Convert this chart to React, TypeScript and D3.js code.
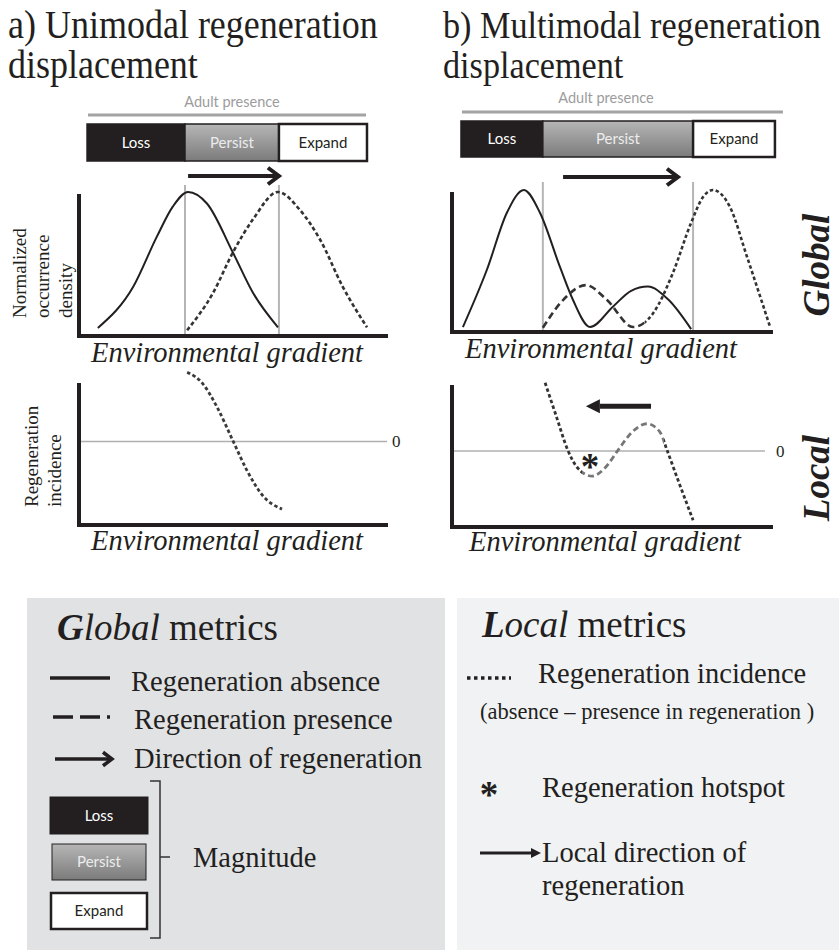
import * as d3 from "d3";

type Pt = [number, number];

// every x position is a place on the environmental gradient, 0–100
// top panels: normalized occurrence density 0–1, bottom panels: regeneration incidence
const absenceA: Pt[] = [
  [6.1, 0.056], [17.5, 0.34], [25.2, 0.69], [30.4, 0.9], [35.3, 1.0],
  [41.4, 0.92], [49.8, 0.58], [56.3, 0.3], [64.4, 0.06],
];
const presenceA: Pt[] = [
  [35, 0.04], [43.4, 0.3], [49.8, 0.58], [56.3, 0.81], [64.4, 1.0],
  [71.5, 0.875], [78, 0.67], [85.4, 0.34], [93.2, 0.06],
];
const incidenceA: Pt[] = [
  [35, 0.83], [40.1, 0.69], [44.7, 0.41], [49.8, 0.01], [54.4, -0.35],
  [59.5, -0.65], [65.7, -0.81],
];

const absenceB: Pt[] = [
  [3.4, 0.035], [10.9, 0.44], [17.1, 0.84], [22.4, 1.0], [27.4, 0.84],
  [33.6, 0.46], [37.7, 0.225], [43, 0.035], [50.2, 0.18], [55.8, 0.29],
  [61, 0.32], [67.3, 0.23], [74.5, 0.02],
];
const presenceB: Pt[] = [
  [28.3, 0.03], [34.6, 0.225], [41.7, 0.33], [48.3, 0.225], [56.4, 0.035],
  [62.6, 0.13], [68.8, 0.415], [74.5, 0.77], [78.2, 0.95], [81.3, 1.0],
  [86.6, 0.88], [91.9, 0.53], [99.1, 0.035],
];
const incidenceB: Pt[] = [
  [29, 0.9], [32.4, 0.47], [36.1, 0.01], [38.9, -0.21], [43.6, -0.33],
  [47.7, -0.22], [51.7, 0.01], [56.1, 0.25], [60.7, 0.36], [64.8, 0.25],
  [67, 0.01], [71, -0.45], [75.1, -0.91],
];

const magnitudeLabels = ["Loss", "Persist", "Expand"];
const barEdgesA = [2.6, 34.3, 64.7, 93.2];
const barEdgesB = [2.8, 28.3, 75.1, 100.6];
const adultA = [2.9, 92.9];
const adultB = [3.1, 103.1];
const shiftA = [35.3, 64.7];
const shiftB = [34.6, 70.4];
const localShiftB = { from: 62, to: 41.7, at: 0.59 };
const hotspotB: Pt = [43, -0.145];

const SERIF = "'Liberation Serif', 'Times New Roman', serif";
const SANS = "Lato, 'Open Sans', sans-serif";
const INK = "#231f20";
const DOT = "3.5 2.5";
const DASH = "7 4";

type Seg = { from: number; to: number; dash?: string; color: string };

const Curve = ({ id, data, x, y, segs, width }: any) => {
  const line = d3
    .line<Pt>()
    .x((d) => x(d[0]))
    .y((d) => y(d[1]))
    .curve(d3.curveMonotoneX);
  const d = line(data) || "";
  return (
    <g>
      {segs.map((s: Seg, i: number) => {
        const cid = `${id}-${i}`;
        const x0 = x(s.from);
        const x1 = x(s.to);
        return (
          <g key={i}>
            <clipPath id={cid}>
              <rect x={x0} y={0} width={x1 - x0} height={950} />
            </clipPath>
            <path
              d={d}
              fill="none"
              stroke={s.color}
              strokeWidth={width}
              strokeDasharray={s.dash}
              clipPath={`url(#${cid})`}
            />
          </g>
        );
      })}
    </g>
  );
};

const OpenArrow = ({ x0, x1, y, w = 4, head = 10 }: any) => {
  const dir = x1 > x0 ? 1 : -1;
  return (
    <g stroke={INK} strokeWidth={w} fill="none">
      <line x1={x0} x2={x1 - dir * 2} y1={y} y2={y} />
      <polyline points={`${x1 - dir * head},${y - head * 0.75} ${x1},${y} ${x1 - dir * head},${y + head * 0.75}`} />
    </g>
  );
};

const SolidArrow = ({ x0, x1, y, w = 4, head = 14, half = 7 }: any) => {
  const dir = x1 > x0 ? 1 : -1;
  return (
    <g fill={INK}>
      <line x1={x0} x2={x1 - dir * head} y1={y} y2={y} stroke={INK} strokeWidth={w} />
      <polygon points={`${x1},${y} ${x1 - dir * head},${y - half} ${x1 - dir * head},${y + half}`} />
    </g>
  );
};

const MagnitudeBar = ({ x, edges, top, h }: any) => (
  <g>
    {magnitudeLabels.map((lab, i) => {
      const x0 = x(edges[i]);
      const x1 = x(edges[i + 1]);
      const fill = i === 0 ? INK : i === 1 ? "url(#persistFill)" : "#fff";
      return (
        <g key={lab}>
          <rect
            x={x0}
            y={top}
            width={x1 - x0}
            height={h}
            fill={fill}
            stroke={INK}
            strokeWidth={i === 2 ? 2.5 : 1.5}
          />
          <text
            x={(x0 + x1) / 2}
            y={top + h / 2 + 5}
            textAnchor="middle"
            fontFamily={SANS}
            fontSize={15}
            fill={i === 0 ? "#fff" : i === 1 ? "#ececec" : INK}
          >
            {lab}
          </text>
        </g>
      );
    })}
  </g>
);

const Panel = ({ id, L, absence, presence, presenceSegs, incidence, incidenceSegs, edges, adult, shift, local }: any) => {
  const x = d3.scaleLinear().domain([0, 100]).range(L.x);
  const yTop = d3.scaleLinear().domain([0, 1]).range(L.top);
  const yBot = d3.scaleLinear().domain(L.botDomain).range(L.bottom);
  const [r0, r1] = x.range();
  return (
    <g>
      {/* adult presence & magnitude bar */}
      <text x={L.adultTextX} y={L.adultTextY} textAnchor="middle" fontFamily={SANS} fontSize={14.5} fill="#9c9c9c">
        Adult presence
      </text>
      <line x1={x(adult[0])} x2={x(adult[1])} y1={L.adultY} y2={L.adultY} stroke="#a3a3a3" strokeWidth={3} />
      <MagnitudeBar x={x} edges={edges} top={L.barTop} h={L.barH} />
      <OpenArrow x0={x(shift[0])} x1={x(shift[1])} y={L.arrowY} w={4} head={11} />

      {/* density plot */}
      {[edges[1], edges[2]].map((e: number) => (
        <line key={e} x1={x(e)} x2={x(e)} y1={L.boundTop} y2={yTop(0)} stroke="#b5b5b5" strokeWidth={2} />
      ))}
      <Curve id={`${id}-abs`} data={absence} x={x} y={yTop} width={2} segs={[{ from: -5, to: 110, color: INK }]} />
      <Curve id={`${id}-pre`} data={presence} x={x} y={yTop} width={2.6} segs={presenceSegs} />
      <line x1={r0} x2={r0} y1={yTop(1) + 2} y2={yTop(0) + 2} stroke={INK} strokeWidth={4} />
      <line x1={r0 - 2} x2={r1} y1={yTop(0)} y2={yTop(0)} stroke={INK} strokeWidth={4} />
      <text x={L.gradX[0]} y={L.gradTop} textAnchor="middle" fontFamily={SERIF} fontStyle="italic" fontSize={28.5} fill={INK}>
        Environmental gradient
      </text>

      {/* incidence plot */}
      <line x1={r0} x2={L.zeroEnd} y1={yBot(0)} y2={yBot(0)} stroke="#b0b0b0" strokeWidth={1.5} />
      <text x={L.zeroLabelX} y={yBot(0) + 6} fontFamily={SERIF} fontSize={17} fill={INK}>
        0
      </text>
      <Curve id={`${id}-inc`} data={incidence} x={x} y={yBot} width={2.8} segs={incidenceSegs} />
      {local && (
        <>
          <SolidArrow x0={x(local.from)} x1={x(local.to)} y={yBot(local.at)} w={5} head={14} half={7} />
          <text
            x={x(hotspotB[0])}
            y={yBot(hotspotB[1]) + 17}
            textAnchor="middle"
            fontFamily={SERIF}
            fontWeight="bold"
            fontSize={37}
            fill={INK}
          >
            *
          </text>
        </>
      )}
      <line x1={r0} x2={r0} y1={yBot.range()[1]} y2={yBot.range()[0] + 2} stroke={INK} strokeWidth={4} />
      <line x1={r0 - 2} x2={r1} y1={yBot.range()[0]} y2={yBot.range()[0]} stroke={INK} strokeWidth={4} />
      <text x={L.gradX[1]} y={L.gradBottom} textAnchor="middle" fontFamily={SERIF} fontStyle="italic" fontSize={28.5} fill={INK}>
        Environmental gradient
      </text>
    </g>
  );
};

const LAYOUT_A = {
  x: [79, 388], top: [336, 192], bottom: [525, 383], botDomain: [-1, 0.7],
  adultY: 115, adultTextX: 232, adultTextY: 107, barTop: 124, barH: 37, arrowY: 176,
  boundTop: 185, zeroEnd: 387, zeroLabelX: 392, gradX: [227, 227], gradTop: 362, gradBottom: 550,
};
const LAYOUT_B = {
  x: [452, 773], top: [332, 190], bottom: [527, 385], botDomain: [-1, 0.87],
  adultY: 112, adultTextX: 606, adultTextY: 103, barTop: 121, barH: 36, arrowY: 177,
  boundTop: 182, zeroEnd: 765, zeroLabelX: 776, gradX: [601, 605], gradTop: 358, gradBottom: 551,
};

const T = (p: any) => <text fontFamily={SERIF} fill={INK} {...p} />;

const App = () => {
  return (
    <svg
      width={839}
      height={950}
      viewBox="0 0 839 950"
      style={{ position: "absolute", left: 0, top: 0, background: "#fff" }}
    >
      <defs>
        <linearGradient id="persistFill" x1="0" y1="0" x2="0" y2="1">
          <stop offset="0" stopColor="#b6b6b6" />
          <stop offset="1" stopColor="#7b7b7b" />
        </linearGradient>
      </defs>
      <rect width={839} height={950} fill="#fff" />

      {/* titles, slightly condensed like the original */}
      <T transform="translate(8,38) scale(1,1.1)" fontSize={36}>a) Unimodal regeneration</T>
      <T transform="translate(8,78) scale(1,1.1)" fontSize={36}>displacement</T>
      <T transform="translate(443,38) scale(1,1.1)" fontSize={34.2}>b) Multimodal regeneration</T>
      <T transform="translate(443,78) scale(1,1.1)" fontSize={34.2}>displacement</T>

      {/* y labels */}
      <g fontFamily={SERIF} fontSize={19} fill={INK}>
        <text transform="translate(26,318) rotate(-90)">Normalized</text>
        <text transform="translate(49,318) rotate(-90)">occurrence</text>
        <text transform="translate(72,318) rotate(-90)">density</text>
        <text transform="translate(38,507) rotate(-90)">Regeneration</text>
        <text transform="translate(61,507) rotate(-90)">incidence</text>
      </g>

      <Panel
        id="a"
        L={LAYOUT_A}
        absence={absenceA}
        presence={presenceA}
        presenceSegs={[{ from: -5, to: 110, dash: "4 2.6", color: "#333" }]}
        incidence={incidenceA}
        incidenceSegs={[{ from: -5, to: 110, dash: DOT, color: "#3a3a3a" }]}
        edges={barEdgesA}
        adult={adultA}
        shift={shiftA}
      />
      <Panel
        id="b"
        L={LAYOUT_B}
        absence={absenceB}
        presence={presenceB}
        presenceSegs={[
          { from: -5, to: 60, dash: DASH, color: "#333" },
          { from: 60, to: 110, dash: DOT, color: "#333" },
        ]}
        incidence={incidenceB}
        incidenceSegs={[
          { from: -5, to: 40.5, dash: DOT, color: "#333" },
          { from: 40.5, to: 66, dash: "6 3.5", color: "#777" },
          { from: 66, to: 110, dash: DOT, color: "#333" },
        ]}
        edges={barEdgesB}
        adult={adultB}
        shift={shiftB}
        local={localShiftB}
      />

      {/* scale labels */}
      <T transform="translate(829,265) rotate(-90)" textAnchor="middle" fontSize={37} fontStyle="italic" fontWeight="bold">
        Global
      </T>
      <T transform="translate(829,478) rotate(-90)" textAnchor="middle" fontSize={37} fontStyle="italic" fontWeight="bold">
        Local
      </T>

      {/* legend: global */}
      <rect x={27} y={598} width={418} height={352} fill="#e1e2e4" />
      <T x={57} y={640} fontSize={37}>
        <tspan fontStyle="italic" fontWeight="bold">G</tspan>
        <tspan fontStyle="italic">lobal</tspan>
        <tspan> metrics</tspan>
      </T>
      <line x1={50} x2={110} y1={678} y2={678} stroke={INK} strokeWidth={3.5} />
      <T x={131} y={691} fontSize={28.5}>Regeneration absence</T>
      <line x1={53} x2={113} y1={717} y2={717} stroke={INK} strokeWidth={3.5} strokeDasharray="20 7 20 7 3" />
      <T x={134} y={729} fontSize={28.5}>Regeneration presence</T>
      <OpenArrow x0={55} x1={112} y={759} w={3.5} head={9} />
      <T x={134} y={768} fontSize={28.5}>Direction of regeneration</T>
      {magnitudeLabels.map((lab, i) => {
        const box = [
          { x: 50, y: 797, w: 98, h: 37 },
          { x: 52, y: 844, w: 94, h: 36 },
          { x: 51, y: 893, w: 96, h: 36 },
        ][i];
        return (
          <g key={lab}>
            <rect
              x={box.x}
              y={box.y}
              width={box.w}
              height={box.h}
              fill={i === 0 ? INK : i === 1 ? "url(#persistFill)" : "#fff"}
              stroke={INK}
              strokeWidth={i === 2 ? 2.5 : 1}
            />
            <text
              x={box.x + box.w / 2}
              y={box.y + box.h / 2 + 5}
              textAnchor="middle"
              fontFamily={SANS}
              fontSize={15}
              fill={i === 0 ? "#fff" : i === 1 ? "#ececec" : INK}
            >
              {lab}
            </text>
          </g>
        );
      })}
      <path d="M150,781 L160,781 L160,938 L150,938 M160,857 L170,857" fill="none" stroke="#333" strokeWidth={1.5} />
      <T x={193} y={867} fontSize={28.5}>Magnitude</T>

      {/* legend: local */}
      <rect x={457} y={598} width={382} height={352} fill="#f1f2f4" />
      <T x={482} y={637} fontSize={37}>
        <tspan fontStyle="italic" fontWeight="bold">L</tspan>
        <tspan fontStyle="italic">ocal</tspan>
        <tspan> metrics</tspan>
      </T>
      <line x1={467} x2={511} y1={678} y2={678} stroke={INK} strokeWidth={3.5} strokeDasharray="3.5 3.5" />
      <T x={538} y={683} fontSize={28.5}>Regeneration incidence</T>
      <T x={480} y={719} fontSize={22.5}>(absence – presence in regeneration )</T>
      <T x={489} y={807} textAnchor="middle" fontSize={37} fontWeight="bold">*</T>
      <T x={542} y={797} fontSize={28.5}>Regeneration hotspot</T>
      <SolidArrow x0={480} x1={541} y={853} w={3} head={10} half={5} />
      <T x={542} y={862} fontSize={28.5}>Local direction of</T>
      <T x={542} y={895} fontSize={28.5}>regeneration</T>
    </svg>
  );
};

export default App;
